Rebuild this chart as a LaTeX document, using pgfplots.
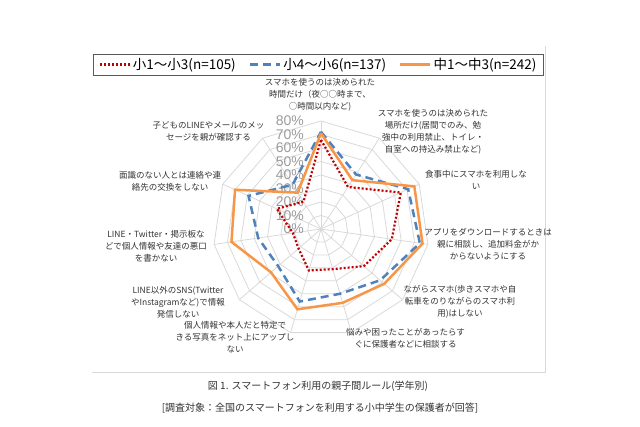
\documentclass[border=0pt]{standalone}
\usepackage{fontspec}
\setmainfont{Liberation Sans}
\newfontfamily\jp{Noto Sans CJK JP}
\usepackage{pgfplots}
\usepgfplotslibrary{polar}
\pgfplotsset{compat=1.18}
\definecolor{cred}{RGB}{192,0,0}
\definecolor{cblue}{RGB}{79,129,189}
\definecolor{corange}{RGB}{247,150,70}
\definecolor{cgrid}{RGB}{217,217,217}
\definecolor{ctick}{RGB}{155,155,155}
\definecolor{ctext}{RGB}{50,50,50}
\begin{document}
\begin{tikzpicture}[x=1pt,y=1pt]
\path[use as bounding box] (0,0) rectangle (640,426);
\draw[cgrid, line width=0.8pt] (92,54) -- (545,54) -- (545,380);
\begin{polaraxis}[
  at={(321pt,197pt)}, anchor=center,
  width=216pt, height=216pt, scale only axis,
  ymin=0, ymax=80,
  hide axis, clip=false,
  legend columns=3,
  legend style={at={(0.489,1.262)}, anchor=center, draw=black!65, line width=0.6pt,
    font=\jp\fontsize{13.5}{16}\selectfont, inner xsep=5pt, inner ysep=2pt,
    /tikz/every even column/.append style={column sep=11pt}},
  legend image code/.code={\draw[#1] (0pt,0pt) -- (30pt,0pt);},
]
% polygon grid
\pgfplotsinvokeforeach{10,20,30,40,50,60,70,80}{
  \addplot[cgrid, line width=0.8pt, forget plot] coordinates {(90,#1) (57.273,#1) (24.545,#1) (-8.182,#1) (-40.909,#1) (-73.636,#1) (-106.364,#1) (-139.091,#1) (-171.818,#1) (-204.545,#1) (-237.273,#1) (-270,#1)};
}
\pgfplotsinvokeforeach{90,57.273,24.545,-8.182,-40.909,-73.636,-106.364,-139.091,-171.818,-204.545,-237.273}{
  \addplot[cgrid, line width=0.8pt, forget plot] coordinates {(#1,0) (#1,80)};
}
\pgfplotsinvokeforeach{0,10,20,30,40,50,60,70,80}{
  \node[anchor=east, inner sep=0pt, xshift=-17pt, text=ctick, font=\fontsize{14}{14}\selectfont] at (axis cs:90,#1) {#1\%};
}
\addplot[cred, line width=2.2pt, dash pattern=on 2pt off 2pt] coordinates {(90,66) (57.273,37) (24.545,65) (-8.182,53) (-40.909,42) (-73.636,31) (-106.364,32) (-139.091,22) (-171.818,21) (-204.545,36) (-237.273,24) (-270,66)};
\addlegendentry{小1〜小3(n=105)}
\addplot[cblue, line width=2.5pt, dash pattern=on 8pt off 5pt] coordinates {(90,72) (57.273,48) (24.545,71) (-8.182,74) (-40.909,58) (-73.636,50) (-106.364,56) (-139.091,42) (-171.818,47) (-204.545,59) (-237.273,39) (-270,72)};
\addlegendentry{小4〜小6(n=137)}
\addplot[corange, line width=2.5pt] coordinates {(90,71) (57.273,43) (24.545,76) (-8.182,76) (-40.909,62) (-73.636,57) (-106.364,62) (-139.091,49) (-171.818,67) (-204.545,70) (-237.273,32) (-270,71)};
\addlegendentry{中1〜中3(n=242)}
\end{polaraxis}
\begin{scope}[every node/.style={align=center, text=ctext, font=\jp\fontsize{8.5}{12}\selectfont}]
\node at (320,331) {スマホを使うのは決められた\\時間だけ（夜○○時まで、\\○時間以内など)};
\node at (433,294.5) {スマホを使うのは決められた\\場所だけ(居間でのみ、勉\\強中の利用禁止、トイレ・\\自室への持込み禁止など)};
\node at (476,246) {食事中にスマホを利用しな\\い};
\node at (488,182) {アプリをダウンロードするときは\\親に相談し、追加料金がか\\からないようにする};
\node at (460,124) {ながらスマホ(歩きスマホや自\\転車をのりながらのスマホ利\\用)はしない};
\node at (405.5,88) {悩みや困ったことがあったらす\\ぐに保護者などに相談する};
\node at (235,89) {個人情報や本人だと特定で\\きる写真をネット上にアップし\\ない};
\node at (178,124) {LINE以外のSNS(Twitter\\やInstagramなど)で情報\\発信しない};
\node at (156,180) {LINE・Twitter・掲示板な\\どで個人情報や友達の悪口\\を書かない};
\node at (170,245) {面識のない人とは連絡や連\\絡先の交換をしない};
\node at (208.5,295) {子どものLINEやメールのメッ\\セージを親が確認する};
\end{scope}
\node[text=ctext, font=\jp\fontsize{10}{12}\selectfont] at (318,40) {図 1. スマートフォン利用の親子間ルール(学年別)};
\node[text=ctext, font=\jp\fontsize{10}{12}\selectfont] at (320,18) {[調査対象：全国のスマートフォンを利用する小中学生の保護者が回答]};
\end{tikzpicture}
\end{document}
